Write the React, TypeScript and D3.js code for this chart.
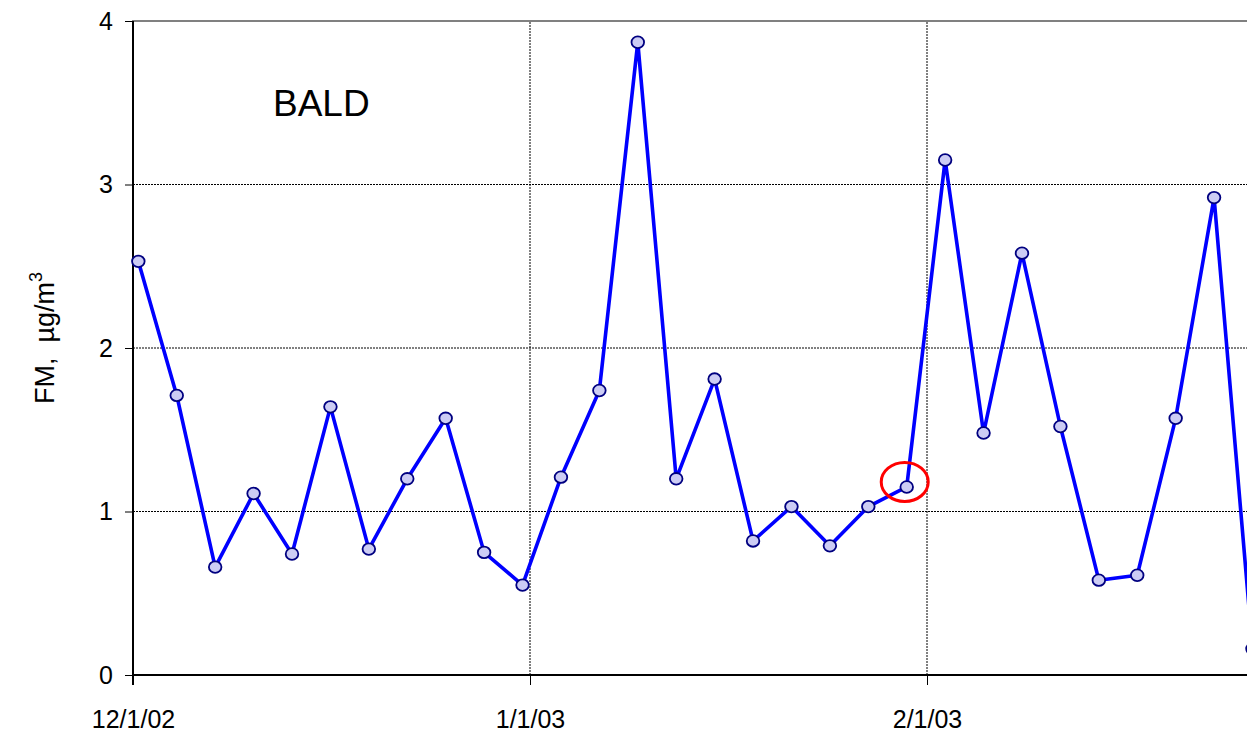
import { useEffect, useRef } from 'react';
import * as d3 from 'd3';

// sample dates (every third day) and FM concentrations, ug/m3
const sampleDates = [
  '2002-12-01', '2002-12-04', '2002-12-07', '2002-12-10', '2002-12-13', '2002-12-16',
  '2002-12-19', '2002-12-22', '2002-12-25', '2002-12-28', '2002-12-31',
  '2003-01-03', '2003-01-06', '2003-01-09', '2003-01-12', '2003-01-15', '2003-01-18',
  '2003-01-21', '2003-01-24', '2003-01-27', '2003-01-30',
  '2003-02-02', '2003-02-05', '2003-02-08', '2003-02-11', '2003-02-14', '2003-02-17',
  '2003-02-20', '2003-02-23', '2003-02-26'
];
const fmValues = [
  2.53, 1.71, 0.66, 1.11, 0.74, 1.64, 0.77, 1.20, 1.57, 0.75, 0.55,
  1.21, 1.74, 3.87, 1.20, 1.81, 0.82, 1.03, 0.79, 1.03, 1.15,
  3.15, 1.48, 2.58, 1.52, 0.58, 0.61, 1.57, 2.92, 0.16
];
const xTickDates = ['2002-12-01', '2003-01-01', '2003-02-01'];
const xTickLabels = ['12/1/02', '1/1/03', '2/1/03'];
const yTicks = [0, 1, 2, 3, 4];
const siteName = 'BALD';
const highlightDate = '2003-01-30';

const App = () => {
  const svgRef = useRef<SVGSVGElement>(null);

  useEffect(() => {
    const svg = d3.select(svgRef.current);
    svg.selectAll('*').remove();

    const width = 1247;
    const height = 733;
    const left = 133;
    const top = 21;
    const bottom = 675;

    const parse = (s: string) => new Date(s + 'T00:00:00');
    const data = sampleDates.map((d, i) => ({ date: new Date(d + 'T10:00:00'), value: fmValues[i] }));

    const x = d3.scaleTime()
      .domain([parse('2002-12-01'), parse('2003-02-01')])
      .range([left, 927]);
    const y = d3.scaleLinear().domain([0, 4]).range([bottom, top]);

    const font = 'Arial, "Liberation Sans", sans-serif';

    // plot border (only top is visible)
    svg.append('rect')
      .attr('x', left).attr('y', top)
      .attr('width', 1400).attr('height', bottom - top)
      .attr('fill', 'none').attr('stroke', '#808080').attr('stroke-width', 2);

    // horizontal gridlines
    svg.append('g')
      .selectAll('line')
      .data(yTicks.filter(t => t > 0 && t < 4))
      .enter()
      .append('line')
      .attr('x1', left).attr('x2', width)
      .attr('y1', d => y(d)).attr('y2', d => y(d))
      .attr('stroke', '#000').attr('stroke-width', 1)
      .attr('stroke-dasharray', '2,1');

    // vertical gridlines
    svg.append('g')
      .selectAll('line')
      .data(xTickDates.slice(1).map(parse))
      .enter()
      .append('line')
      .attr('x1', d => x(d)).attr('x2', d => x(d))
      .attr('y1', top + 1).attr('y2', bottom)
      .attr('stroke', '#000').attr('stroke-width', 1)
      .attr('stroke-dasharray', '2,1');

    // y axis
    const yAxis = svg.append('g')
      .attr('transform', `translate(${left},0)`)
      .call(d3.axisLeft(y).tickValues(yTicks).tickSize(8).tickPadding(12).tickFormat(d3.format('d')));
    yAxis.select('.domain').attr('stroke-width', 2).attr('d', `M0,${top}V${bottom + 10}`);
    yAxis.selectAll('.tick line').attr('stroke-width', 1);
    yAxis.selectAll('.tick text')
      .attr('font-family', font).attr('font-size', 25).attr('fill', '#000');

    // x axis
    const xAxis = svg.append('g')
      .attr('transform', `translate(0,${bottom})`)
      .call(
        d3.axisBottom(x)
          .tickValues(xTickDates.map(parse))
          .tickSize(10)
          .tickPadding(25)
          .tickFormat((_, i) => xTickLabels[i])
      );
    xAxis.select('.domain').attr('stroke-width', 2).attr('d', `M${left},0H${width}`);
    xAxis.selectAll('.tick line').attr('stroke-width', 1);
    xAxis.selectAll('.tick text')
      .attr('font-family', font).attr('font-size', 25).attr('fill', '#000');

    // series line
    const line = d3.line<{ date: Date; value: number }>()
      .x(d => x(d.date))
      .y(d => y(d.value));
    svg.append('path')
      .datum(data)
      .attr('d', line)
      .attr('fill', 'none')
      .attr('stroke', '#0000ff')
      .attr('stroke-width', 3.6)
      .attr('stroke-linejoin', 'round');

    // markers
    svg.append('g')
      .selectAll('ellipse')
      .data(data)
      .enter()
      .append('ellipse')
      .attr('cx', d => x(d.date))
      .attr('cy', d => y(d.value))
      .attr('rx', 6.3).attr('ry', 5.8)
      .attr('fill', '#ccccf4')
      .attr('stroke', '#000080')
      .attr('stroke-width', 1.8);

    // highlight ring
    const hl = data.find(d => d.date.getTime() === new Date(highlightDate + 'T10:00:00').getTime());
    if (hl) {
      svg.append('ellipse')
        .attr('cx', x(hl.date) - 2)
        .attr('cy', y(hl.value) - 5)
        .attr('rx', 23.5).attr('ry', 19.5)
        .attr('fill', 'none')
        .attr('stroke', '#ff0000')
        .attr('stroke-width', 3);
    }

    // site label
    svg.append('text')
      .attr('x', 273).attr('y', 116)
      .attr('font-family', font).attr('font-size', 37)
      .attr('fill', '#000')
      .text(siteName);

    // y label
    const yl = svg.append('text')
      .attr('transform', `translate(54,${(top + bottom) / 2 - 10}) rotate(-90)`)
      .attr('text-anchor', 'middle')
      .attr('font-family', font).attr('font-size', 27)
      .attr('fill', '#000');
    yl.append('tspan').text('FM,\u00a0\u00a0\u00b5g/m');
    yl.append('tspan').attr('font-size', 18).attr('dy', -12).text('3');

    svg.attr('width', width).attr('height', height);
  }, []);

  return (
    <svg
      ref={svgRef}
      width={1247}
      height={733}
      style={{ position: 'absolute', left: 0, top: 0, background: '#fff' }}
    />
  );
};

export default App;
